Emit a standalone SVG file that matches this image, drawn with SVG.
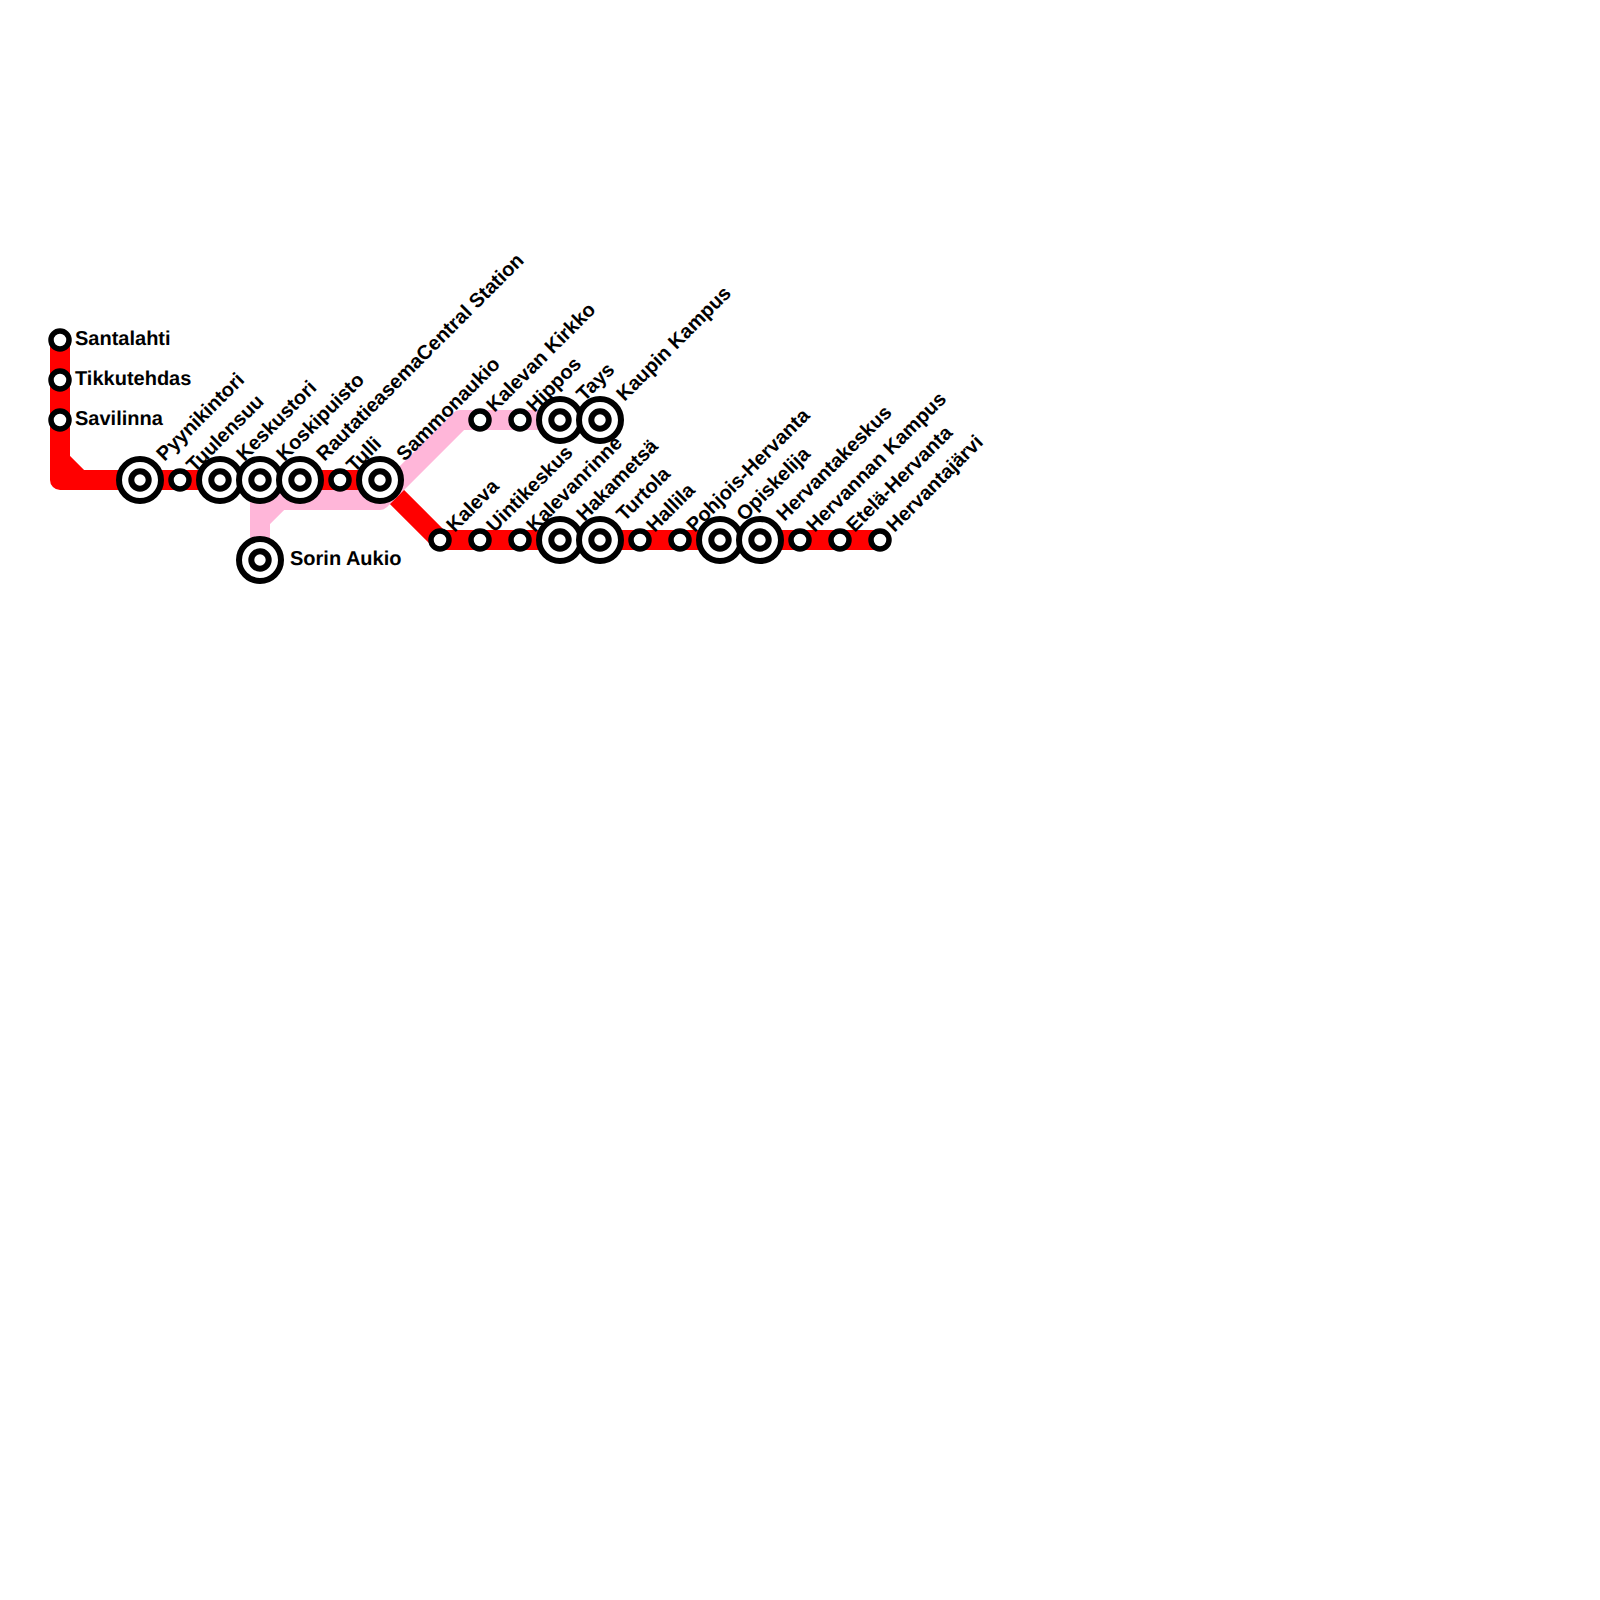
<svg xmlns="http://www.w3.org/2000/svg" width="1600" height="1600" viewBox="0 0 1600 1600">
<style>
.line{fill:none;stroke-width:20;stroke-linejoin:round;stroke-linecap:butt}
.ring{fill:#fff;stroke:#000;stroke-width:6}
.small{fill:#fff;stroke:#000;stroke-width:5.5}
text{font-family:"Liberation Sans",Arial,sans-serif;font-weight:bold;font-size:20px;fill:#000;text-rendering:geometricPrecision}
</style>
<defs>
<g id="small"><circle class="small" r="9"/></g>
<g id="big"><circle class="ring" r="21"/><circle class="ring" r="8.700"/></g>
</defs>
<rect width="1600" height="1600" fill="#fff"/>
<g id="connectors">
<path class="line" stroke="#ff0000" d="M60 340V480H380L440 540H880M60 460L80 480"/>
<path class="line" stroke="#ffb6d9" d="M260 560V500H380L460 420H600M260 520L280 500"/>
</g>
<g id="santalahti"><use href="#small" x="60" y="340"/><text x="75" y="345">Santalahti</text></g>
<g id="tikkutehdas"><use href="#small" x="60" y="380"/><text x="75" y="385">Tikkutehdas</text></g>
<g id="savilinna"><use href="#small" x="60" y="420"/><text x="75" y="425">Savilinna</text></g>
<g id="pyynikintori"><use href="#big" x="140" y="480"/><text transform="translate(164.500 462) rotate(-45)">Pyynikintori</text></g>
<g id="tuulensuu"><use href="#small" x="180" y="480"/><text transform="translate(194.500 473) rotate(-45)">Tuulensuu</text></g>
<g id="keskustori"><use href="#big" x="220" y="480"/><text transform="translate(244.500 462) rotate(-45)">Keskustori</text></g>
<g id="koskipuisto"><use href="#big" x="260" y="480"/><text transform="translate(284.500 462) rotate(-45)">Koskipuisto</text></g>
<g id="rautatieasema"><use href="#big" x="300" y="480"/><text transform="translate(324.500 462) rotate(-45)">RautatieasemaCentral Station</text></g>
<g id="tulli"><use href="#small" x="340" y="480"/><text transform="translate(354.500 473) rotate(-45)">Tulli</text></g>
<g id="sammonaukio"><use href="#big" x="380" y="480"/><text transform="translate(404.500 462) rotate(-45)">Sammonaukio</text></g>
<g id="sorin-aukio"><use href="#big" x="260" y="560"/><text x="290" y="565">Sorin Aukio</text></g>
<g id="kalevan-kirkko"><use href="#small" x="480" y="420"/><text transform="translate(494.500 413) rotate(-45)">Kalevan Kirkko</text></g>
<g id="hippos"><use href="#small" x="520" y="420"/><text transform="translate(534.500 413) rotate(-45)">Hippos</text></g>
<g id="tays"><use href="#big" x="560" y="420"/><text transform="translate(584.500 402) rotate(-45)">Tays</text></g>
<g id="kaupin-kampus"><use href="#big" x="600" y="420"/><text transform="translate(624.500 402) rotate(-45)">Kaupin Kampus</text></g>
<g id="kaleva"><use href="#small" x="440" y="540"/><text transform="translate(454.500 533) rotate(-45)">Kaleva</text></g>
<g id="uintikeskus"><use href="#small" x="480" y="540"/><text transform="translate(494.500 533) rotate(-45)">Uintikeskus</text></g>
<g id="kalevanrinne"><use href="#small" x="520" y="540"/><text transform="translate(534.500 533) rotate(-45)">Kalevanrinne</text></g>
<g id="hakametsa"><use href="#big" x="560" y="540"/><text transform="translate(584.500 522) rotate(-45)">Hakametsä</text></g>
<g id="turtola"><use href="#big" x="600" y="540"/><text transform="translate(624.500 522) rotate(-45)">Turtola</text></g>
<g id="hallila"><use href="#small" x="640" y="540"/><text transform="translate(654.500 533) rotate(-45)">Hallila</text></g>
<g id="pohjois-hervanta"><use href="#small" x="680" y="540"/><text transform="translate(694.500 533) rotate(-45)">Pohjois-Hervanta</text></g>
<g id="opiskelija"><use href="#big" x="720" y="540"/><text transform="translate(744.500 522) rotate(-45)">Opiskelija</text></g>
<g id="hervantakeskus"><use href="#big" x="760" y="540"/><text transform="translate(784.500 522) rotate(-45)">Hervantakeskus</text></g>
<g id="hervannan-kampus"><use href="#small" x="800" y="540"/><text transform="translate(814.500 533) rotate(-45)">Hervannan Kampus</text></g>
<g id="etela-hervanta"><use href="#small" x="840" y="540"/><text transform="translate(854.500 533) rotate(-45)">Etelä-Hervanta</text></g>
<g id="hervantajarvi"><use href="#small" x="880" y="540"/><text transform="translate(894.500 533) rotate(-45)">Hervantajärvi</text></g>
</svg>
